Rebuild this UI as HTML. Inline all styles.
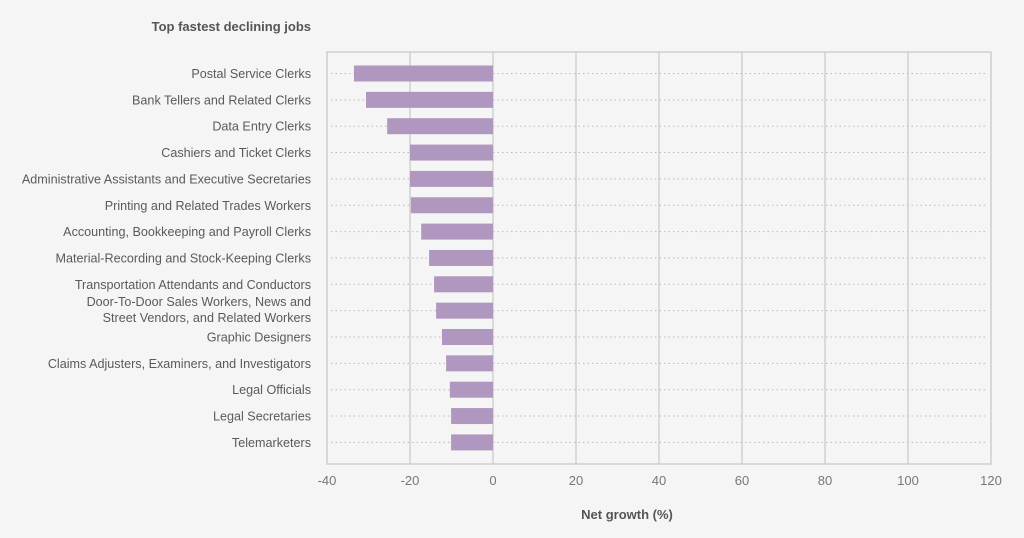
<!DOCTYPE html>
<html><head><meta charset="utf-8"><style>
body{margin:0;background:#f5f5f5;font-family:"Liberation Sans",sans-serif;overflow:hidden;}
svg{display:block;}
svg text{font-family:"Liberation Sans",sans-serif;}
</style></head><body>
<svg width="1024" height="538" id="c"></svg>
<script>
const categories=["Postal Service Clerks","Bank Tellers and Related Clerks","Data Entry Clerks","Cashiers and Ticket Clerks","Administrative Assistants and Executive Secretaries","Printing and Related Trades Workers","Accounting, Bookkeeping and Payroll Clerks","Material-Recording and Stock-Keeping Clerks","Transportation Attendants and Conductors","Door-To-Door Sales Workers, News and|Street Vendors, and Related Workers","Graphic Designers","Claims Adjusters, Examiners, and Investigators","Legal Officials","Legal Secretaries","Telemarketers"];
const values=[-33.5,-30.6,-25.5,-20,-20,-19.8,-17.3,-15.4,-14.2,-13.7,-12.3,-11.3,-10.4,-10.1,-10.1];
const ticks=[-40,-20,0,20,40,60,80,100,120];
const NS="http://www.w3.org/2000/svg";
const svg=document.getElementById('c');
const L=327,R=991,T=52,B=464;
const x=v=>L+(v+40)/160*(R-L);
const rowY=i=>73.5+i*26.35;
function mk(t,a,p){const e=document.createElementNS(NS,t);for(const k in a)e.setAttribute(k,a[k]);(p||svg).appendChild(e);return e;}
const plot=mk('rect',{x:L,y:T,width:R-L,height:B-T,fill:'#f5f5f5',stroke:'#cfcfcf','stroke-width':1.5});


ticks.forEach(t=>{
  if(t>-40&&t<120){const g=mk('line',{x1:x(t),x2:x(t),y1:T,y2:B,stroke:'#c8c8c8','stroke-width':1.2});
  
  }
  const tx=mk('text',{x:x(t),y:485,'text-anchor':'middle','font-size':13,fill:'#777'});tx.textContent=t;
  
  
});
categories.forEach((c,i)=>{
  const y=rowY(i);
  const d=mk('line',{x1:L+4,x2:R-4,y1:y,y2:y,stroke:'#bbb','stroke-width':1,'stroke-dasharray':'1.5,3'});
  
  
  const v=values[i];
  const b=mk('rect',{x:x(v),y:y-8,width:x(0)-x(v),height:16,fill:'#b097bf'});
  
  
  const parts=c.split('|');
  parts.forEach((p,j)=>{
    const ty=parts.length>1?(j===0?y-4.5:y+11.5):y+4.5;
    const t=mk('text',{x:311,y:ty,'text-anchor':'end','font-size':12.6,fill:'#5a5a5a'});
    t.textContent=p;
    
    
  });
});
const ti=mk('text',{x:311,y:31,'text-anchor':'end','font-size':13,'font-weight':'bold',fill:'#555'});ti.textContent='Top fastest declining jobs';


const xt=mk('text',{x:627,y:519,'text-anchor':'middle','font-size':13,'font-weight':'bold',fill:'#555'});xt.textContent='Net growth (%)';


</script>
</body></html>
